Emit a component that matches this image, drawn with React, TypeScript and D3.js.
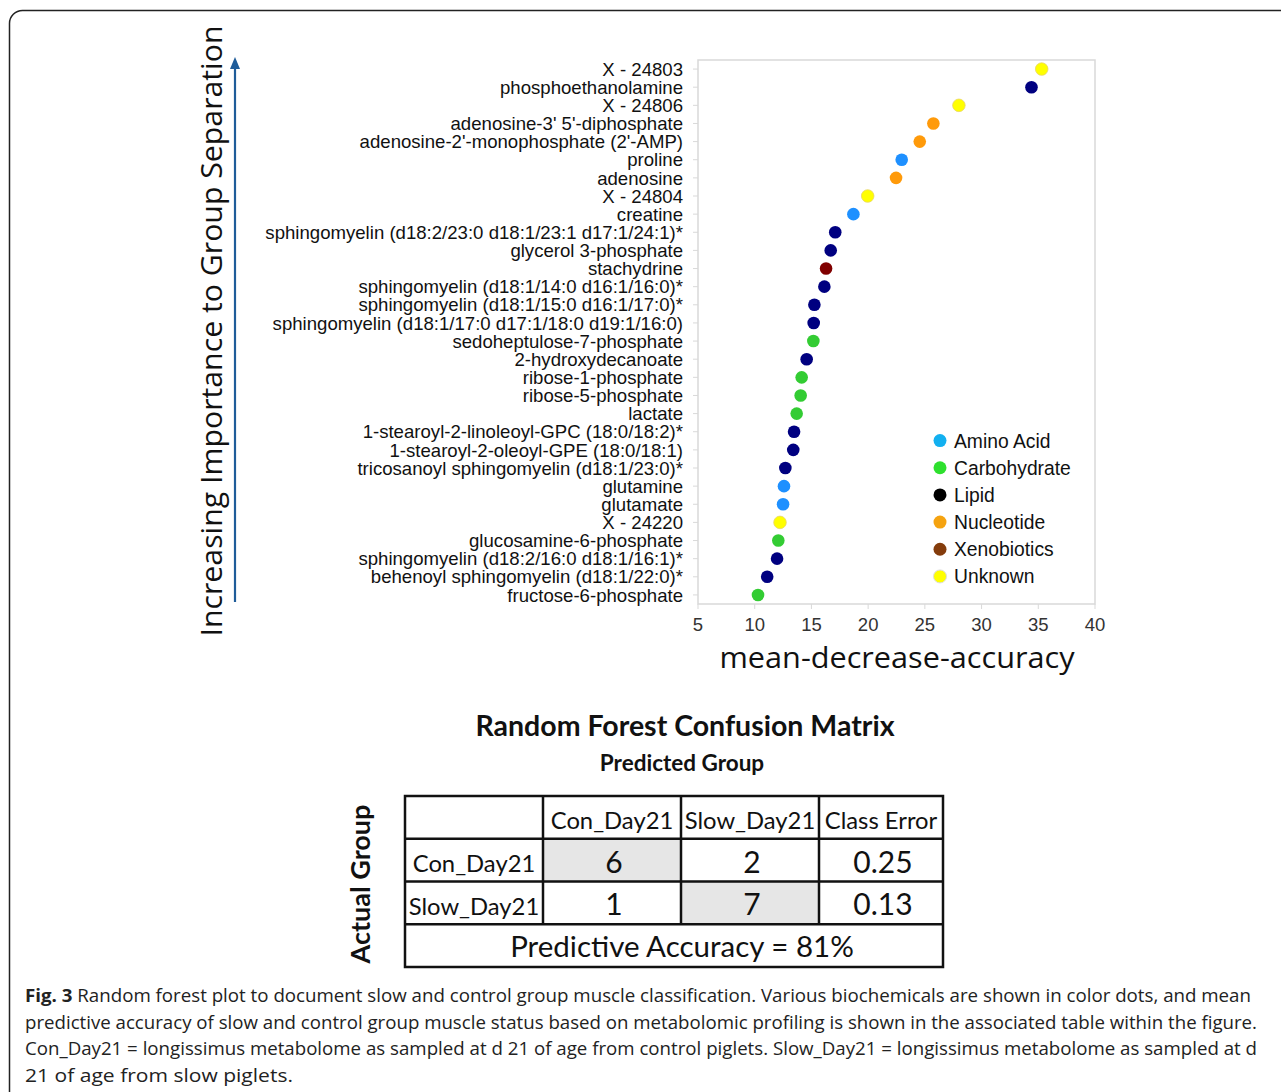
import React from "react";
import { scaleLinear, scaleBand } from "d3";

const metabolites = [
  "X - 24803",
  "phosphoethanolamine",
  "X - 24806",
  "adenosine-3' 5'-diphosphate",
  "adenosine-2'-monophosphate (2'-AMP)",
  "proline",
  "adenosine",
  "X - 24804",
  "creatine",
  "sphingomyelin (d18:2/23:0 d18:1/23:1 d17:1/24:1)*",
  "glycerol 3-phosphate",
  "stachydrine",
  "sphingomyelin (d18:1/14:0 d16:1/16:0)*",
  "sphingomyelin (d18:1/15:0 d16:1/17:0)*",
  "sphingomyelin (d18:1/17:0 d17:1/18:0 d19:1/16:0)",
  "sedoheptulose-7-phosphate",
  "2-hydroxydecanoate",
  "ribose-1-phosphate",
  "ribose-5-phosphate",
  "lactate",
  "1-stearoyl-2-linoleoyl-GPC (18:0/18:2)*",
  "1-stearoyl-2-oleoyl-GPE (18:0/18:1)",
  "tricosanoyl sphingomyelin (d18:1/23:0)*",
  "glutamine",
  "glutamate",
  "X - 24220",
  "glucosamine-6-phosphate",
  "sphingomyelin (d18:2/16:0 d18:1/16:1)*",
  "behenoyl sphingomyelin (d18:1/22:0)*",
  "fructose-6-phosphate",
];

const importance = [
  35.3, 34.4, 28.0, 25.75, 24.55, 22.96, 22.46, 19.96, 18.7, 17.1, 16.7, 16.29,
  16.14, 15.26, 15.2, 15.17, 14.58, 14.14, 14.05, 13.7, 13.47, 13.4, 12.7,
  12.58, 12.5, 12.23, 12.08, 11.97, 11.1, 10.29,
];

const classes = [
  "Unknown", "Lipid", "Unknown", "Nucleotide", "Nucleotide", "Amino Acid",
  "Nucleotide", "Unknown", "Amino Acid", "Lipid", "Lipid", "Xenobiotics",
  "Lipid", "Lipid", "Lipid", "Carbohydrate", "Lipid", "Carbohydrate",
  "Carbohydrate", "Carbohydrate", "Lipid", "Lipid", "Lipid", "Amino Acid",
  "Amino Acid", "Unknown", "Carbohydrate", "Lipid", "Lipid", "Carbohydrate",
];

const legendNames = ["Amino Acid", "Carbohydrate", "Lipid", "Nucleotide", "Xenobiotics", "Unknown"];
const legendColors = ["#12b0f0", "#2ee02e", "#000000", "#f5a310", "#843c0c", "#ffff00"];
const dotColors = ["#1e90ff", "#33cc33", "#000080", "#ff9a0a", "#800000", "#ffff00"];

const xTicks = [5, 10, 15, 20, 25, 30, 35, 40];

const tableHeader = ["", "Con_Day21", "Slow_Day21", "Class Error"];
const tableRows = [
  ["Con_Day21", "6", "2", "0.25"],
  ["Slow_Day21", "1", "7", "0.13"],
];
const accuracyText = "Predictive Accuracy = 81%";

const captionLines = [
  "Random forest plot to document slow and control group muscle classification. Various biochemicals are shown in color dots, and mean",
  "predictive accuracy of slow and control group muscle status based on metabolomic profiling is shown in the associated table within the figure.",
  "Con_Day21 = longissimus metabolome as sampled at d 21 of age from control piglets. Slow_Day21 = longissimus metabolome as sampled at d",
  "21 of age from slow piglets.",
];
const captionWidths = [1226, 1232, 1232, 268];

const App = () => {
  const W = 1281;
  const H = 1092;
  const plot = { left: 698, right: 1095, top: 60, bottom: 604 };

  const x = scaleLinear().domain([5, 40]).range([plot.left, plot.right]);
  const y = scaleBand().domain(metabolites).range([plot.top, plot.bottom]);
  const color = (c: string) => dotColors[legendNames.indexOf(c)];
  const legendY = scaleBand().domain(legendNames).range([427, 590]);

  // confusion matrix layout
  const colX = scaleBand().domain(["0", "1", "2"]).range([405, 819]);
  const tableRight = 943;
  const rowY = scaleBand().domain(["h", "r0", "r1", "acc"]).range([796, 967]);
  const colLeft = (i: number) => (i < 3 ? colX(String(i))! : 819);
  const colRight = (i: number) => (i < 2 ? colX(String(i + 1))! : i === 2 ? 819 : tableRight);
  const rh = rowY.bandwidth();
  const tableFont = "Lato, 'Open Sans', sans-serif";

  return (
    <svg width={W} height={H} style={{ position: "absolute", left: 0, top: 0, background: "#fff" }}
      fontFamily="'Liberation Sans', Arial, sans-serif">
      <rect x={9.5} y={10.5} width={1300} height={1120} rx={13} fill="none" stroke="#222" strokeWidth={1.5} />

      {/* vertical title and arrow */}
      <text transform="translate(222,331) rotate(-90)" textAnchor="middle" fontFamily="'Open Sans', sans-serif"
        fontSize={29} fill="#111" textLength={611} lengthAdjust="spacingAndGlyphs">
        Increasing Importance to Group Separation
      </text>
      <line x1={235} x2={235} y1={602} y2={66} stroke="#1f5c99" strokeWidth={2.2} />
      <path d="M235,57 L230,69 L240,69 Z" fill="#1f5c99" />

      {/* plot frame */}
      <rect x={plot.left} y={plot.top} width={plot.right - plot.left} height={plot.bottom - plot.top}
        fill="none" stroke="#d9d9d9" strokeWidth={1.5} />

      {metabolites.map((m) => {
        const cy = y(m)! + y.bandwidth() / 2;
        return (
          <g key={m}>
            <line x1={plot.left - 5} x2={plot.left} y1={cy} y2={cy} stroke="#d9d9d9" />
            <text x={683} y={cy} dy="0.36em" textAnchor="end" fontSize={18.6} fill="#111">{m}</text>
          </g>
        );
      })}

      {xTicks.map((t) => (
        <g key={t}>
          <line x1={x(t)} x2={x(t)} y1={plot.bottom} y2={plot.bottom + 5} stroke="#d9d9d9" />
          <text x={x(t)} y={631} textAnchor="middle" fontSize={18.5} fill="#333">{t}</text>
        </g>
      ))}
      <text x={897} y={668} textAnchor="middle" fontFamily="'Open Sans', sans-serif" fontSize={29} fill="#111"
        textLength={355} lengthAdjust="spacingAndGlyphs">
        mean-decrease-accuracy
      </text>

      {metabolites.map((m, i) => (
        <circle key={m} cx={x(importance[i])} cy={y(m)! + y.bandwidth() / 2} r={6.3}
          fill={color(classes[i])} stroke={classes[i] === "Unknown" ? "#e8d66a" : "none"} strokeWidth={0.8} />
      ))}

      {legendNames.map((n, i) => {
        const cy = legendY(n)! + legendY.bandwidth() / 2;
        return (
          <g key={n}>
            <circle cx={940} cy={cy} r={6.5} fill={legendColors[i]} stroke={n === "Unknown" ? "#ddd" : "none"} />
            <text x={954} y={cy} dy="0.36em" fontSize={19.3} fill="#111">{n}</text>
          </g>
        );
      })}

      {/* confusion matrix */}
      <text x={685} y={736} textAnchor="middle" fontFamily={tableFont} fontWeight={700} fontSize={28.5} fill="#111">
        Random Forest Confusion Matrix
      </text>
      <text x={682} y={771} textAnchor="middle" fontFamily={tableFont} fontWeight={700} fontSize={22.5} fill="#111">
        Predicted Group
      </text>
      <text transform="translate(370,884) rotate(-90)" textAnchor="middle" fontFamily={tableFont} fontWeight={700}
        fontSize={27} fill="#111">
        Actual Group
      </text>

      <rect x={colLeft(1)} y={rowY("r0")} width={colRight(1) - colLeft(1)} height={rh} fill="#e6e6e6" />
      <rect x={colLeft(2)} y={rowY("r1")} width={colRight(2) - colLeft(2)} height={rh} fill="#e6e6e6" />

      {[tableHeader, ...tableRows].map((row, r) =>
        row.map((cell, c) => (
          <text key={`${r}-${c}`} x={(colLeft(c) + colRight(c)) / 2 + (c > 0 && r > 0 ? 2 : 0)}
            y={rowY(["h", "r0", "r1"][r])! + rh / 2}
            dy={r === 0 || c === 0 ? "0.5em" : "0.42em"} textAnchor="middle" fontFamily={tableFont}
            fontSize={r === 0 || c === 0 ? 23.8 : 30} fill="#111">
            {cell}
          </text>
        ))
      )}
      <text x={682} y={rowY("acc")! + rh / 2} dy="0.38em" textAnchor="middle" fontFamily={tableFont}
        fontSize={29.5} fill="#111">
        {accuracyText}
      </text>

      <g stroke="#111" strokeWidth={2.5}>
        <rect x={405} y={796} width={tableRight - 405} height={967 - 796} fill="none" />
        {["r0", "r1", "acc"].map((k) => (
          <line key={k} x1={405} x2={tableRight} y1={rowY(k)} y2={rowY(k)} />
        ))}
        {[1, 2, 3].map((c) => (
          <line key={c} x1={colLeft(c)} x2={colLeft(c)} y1={796} y2={rowY("acc")} />
        ))}
      </g>

      {/* caption */}
      {captionLines.map((line, i) => (
        <text key={i} x={25} y={1002 + i * 26.7} fontFamily="'Open Sans', sans-serif" fontSize={18} fill="#222"
          textLength={captionWidths[i]} lengthAdjust="spacingAndGlyphs">
          {i === 0 ? <tspan fontWeight={700}>Fig. 3 </tspan> : null}
          {line}
        </text>
      ))}
    </svg>
  );
};

export default App;
